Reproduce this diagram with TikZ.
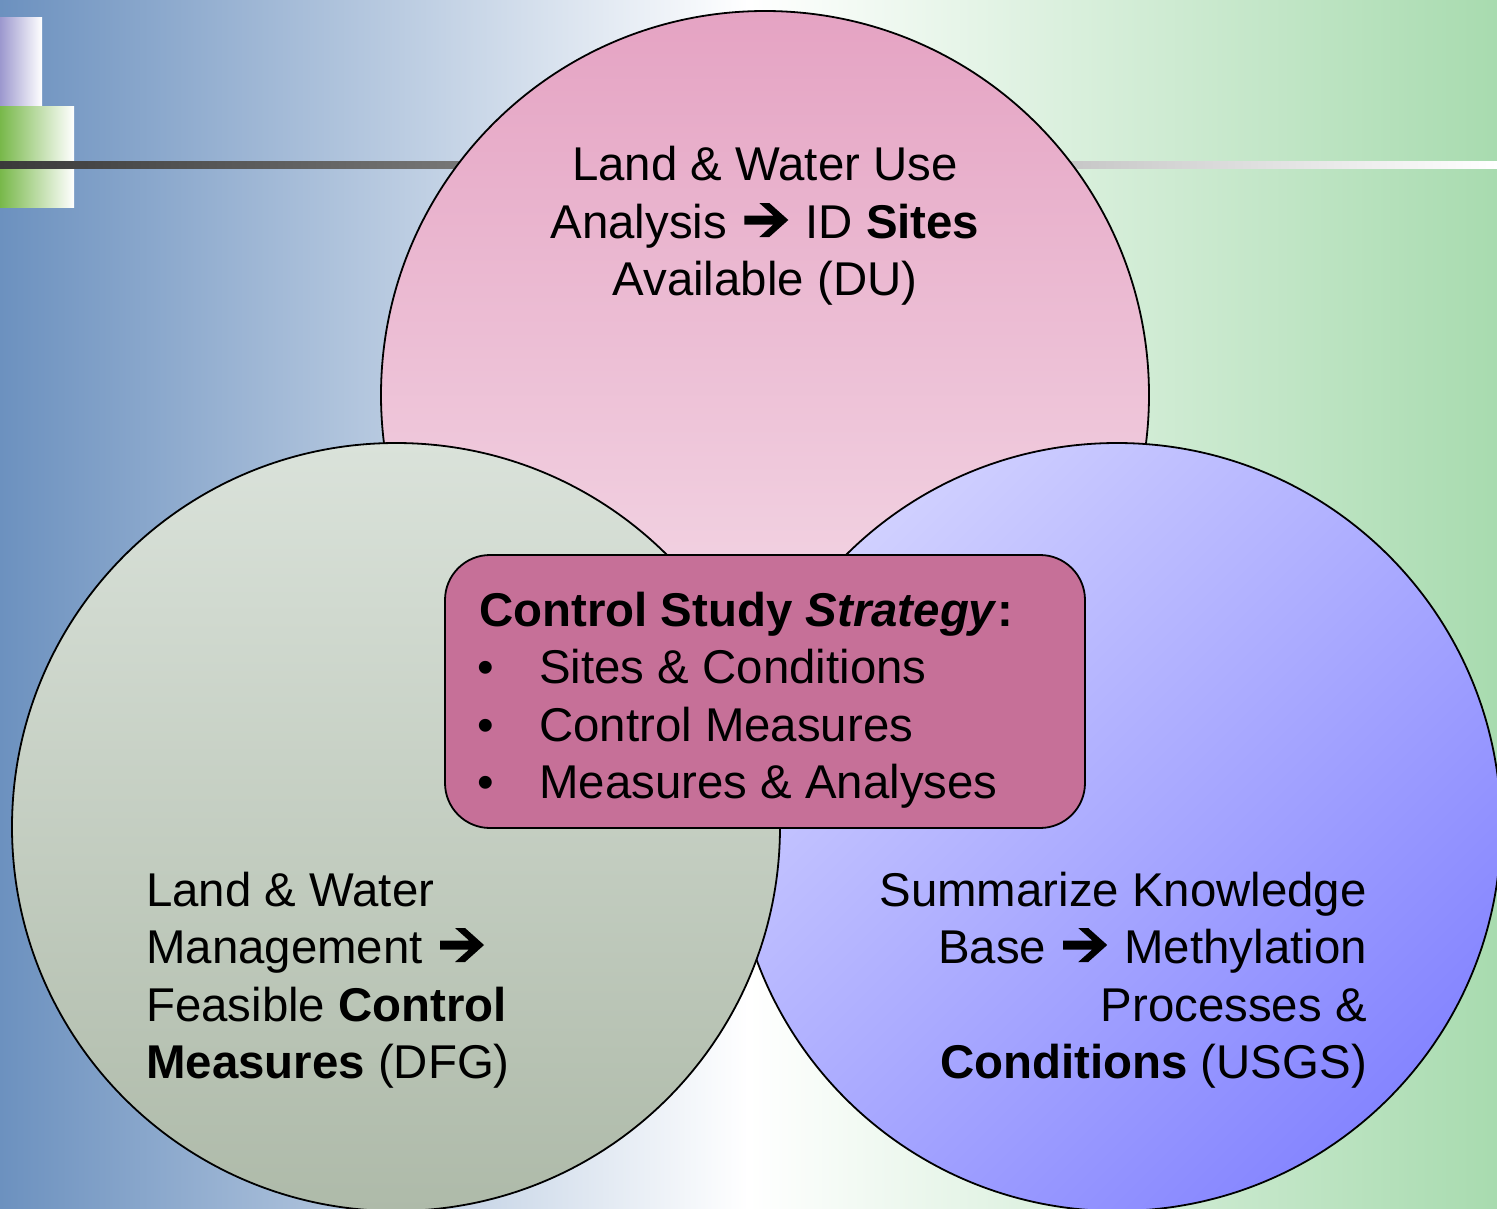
\documentclass[tikz,border=0pt]{standalone}
\usepackage{fontspec}
\setmainfont{Liberation Sans}
\definecolor{bgblue}{HTML}{6C91BF}
\definecolor{bggreen}{HTML}{A8DBAF}
\definecolor{decopurple}{HTML}{9C98CE}
\definecolor{decogreen}{HTML}{78B84A}
\definecolor{linedark}{HTML}{3A3A3A}
\definecolor{pinkA}{HTML}{E5A3C3}
\definecolor{pinkB}{HTML}{F6E2EC}
\definecolor{sageA}{HTML}{DAE2DA}
\definecolor{sageB}{HTML}{AEBAA9}
\definecolor{lavA}{HTML}{D0D0FF}
\definecolor{lavB}{HTML}{8585FF}
\definecolor{boxfill}{HTML}{C67098}
\newsavebox\arrowbox
\newcommand{\myarrow}{\kern4pt\usebox\arrowbox\kern4pt}
\begin{document}
\sbox\arrowbox{\begin{pgfpicture}%
\pgfpathmoveto{\pgfpoint{0pt}{13.5pt}}%
\pgfpathlineto{\pgfpoint{29pt}{13.5pt}}%
\pgfpathlineto{\pgfpoint{15pt}{1pt}}%
\pgfpathlineto{\pgfpoint{25pt}{1pt}}%
\pgfpathlineto{\pgfpoint{44pt}{18pt}}%
\pgfpathlineto{\pgfpoint{25pt}{35pt}}%
\pgfpathlineto{\pgfpoint{15pt}{35pt}}%
\pgfpathlineto{\pgfpoint{29pt}{22.5pt}}%
\pgfpathlineto{\pgfpoint{0pt}{22.5pt}}%
\pgfpathclose
\pgfsetfillcolor{black}%
\pgfusepath{fill}%
\pgfsetbaseline{0pt}%
\end{pgfpicture}}%
\begin{tikzpicture}[x=1pt,y=-1pt,
  txt/.style={inner sep=0pt, font=\fontsize{47.4}{57}\selectfont},
  venn/.style={circle, draw=black, line width=1.8pt, minimum size=768pt, inner sep=0pt},
  stratbox/.style={draw=black, line width=1.8pt, fill=boxfill, rounded corners=45pt,
    minimum width=640pt, minimum height=273pt, inner sep=0pt}]
\useasboundingbox (0,0) rectangle (1497,1208);
% background
\shade[left color=bgblue, right color=bggreen, middle color=white] (0,0) rectangle (1497,1208);
% corner decoration
\shade[left color=decopurple, right color=white] (0,17) rectangle (42,106);
\shade[left color=decogreen, right color=white] (0,106) rectangle (74,207);
\shade[left color=linedark, right color=white] (0,161) rectangle (1497,168);
% circles
\node[venn, top color=pinkA, bottom color=pinkB] (topc) at (765,395) {};
\node[venn, top color=lavA, bottom color=lavB, shading angle=45] (rightc) at (1117,827) {};
\node[venn, top color=sageA, bottom color=sageB] (leftc) at (396,827) {};
% central box
\node[stratbox] (box) at (765,691.5) {};
% top text
\node[txt, anchor=base] (t1) at (765,180) {Land \& Water Use};
\node[txt, anchor=base] (t2) at (765,238) {Analysis \myarrow{} ID \textbf{Sites}};
\node[txt, anchor=base] (t3) at (765,295) {Available (DU)};
% left text
\node[txt, anchor=base west] (l1) at (146,906) {Land \& Water};
\node[txt, anchor=base west] (l2) at (146,963) {Management \myarrow};
\node[txt, anchor=base west] (l3) at (146,1021) {Feasible \textbf{Control}};
\node[txt, anchor=base west] (l4) at (146,1078) {\textbf{Measures} (DFG)};
% right text
\node[txt, anchor=base east] (r1) at (1367,906) {Summarize Knowledge};
\node[txt, anchor=base east] (r2) at (1367,963) {Base \myarrow{} Methylation};
\node[txt, anchor=base east] (r3) at (1367,1021) {Processes \&};
\node[txt, anchor=base east] (r4) at (1367,1078) {\textbf{Conditions} (USGS)};
% box text
\node[txt, anchor=base west] (b0) at (479,626) {\textbf{Control Study \textit{Strategy}:}};
\node[txt, anchor=base west] (d1) at (477,683) {•};
\node[txt, anchor=base west] (b1) at (539,683) {Sites \& Conditions};
\node[txt, anchor=base west] (d2) at (477,741) {•};
\node[txt, anchor=base west] (b2) at (539,741) {Control Measures};
\node[txt, anchor=base west] (d3) at (477,798) {•};
\node[txt, anchor=base west] (b3) at (539,798) {Measures \& Analyses};
\end{tikzpicture}
\end{document}
